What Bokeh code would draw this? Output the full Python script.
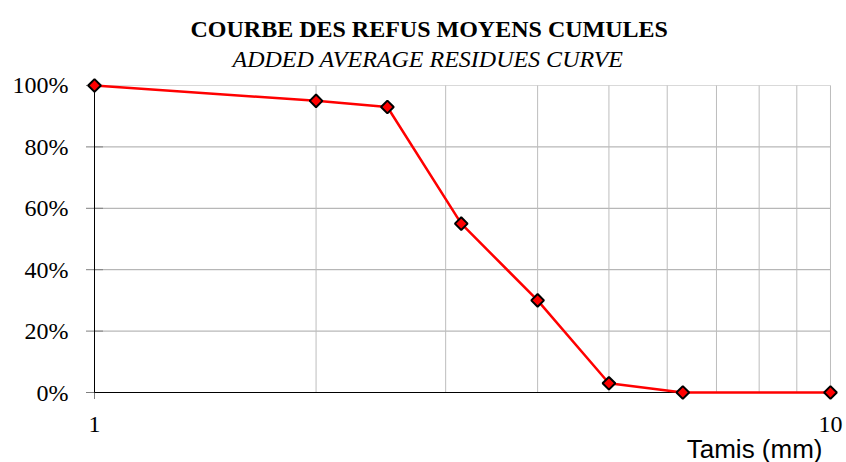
import math
from bokeh.plotting import figure
from bokeh.models import FixedTicker, NumeralTickFormatter, Title, Range1d
from bokeh.embed import file_html
from bokeh.resources import INLINE

sieve_mm = [1, 2, 2.5, 3.15, 4, 5, 6.3, 10]
refus = [1.00, 0.95, 0.93, 0.55, 0.30, 0.03, 0.0, 0.0]
y_ticks = [0, 0.2, 0.4, 0.6, 0.8, 1.0]
x_major = [1, 10]
x_minor = [2, 3, 4, 5, 6, 7, 8, 9]

x0, x1 = x_major[0], x_major[-1]
y0, y1 = y_ticks[0], y_ticks[-1]

p = figure(width=846, height=462, x_axis_type="log",
           x_range=Range1d(x0 / 1.0286, x1 * 1.0286),
           y_range=Range1d(y0 - 0.0293, y1 + 0.0293),
           output_backend="svg", toolbar_location=None,
           min_border_left=85, min_border_right=7, min_border_bottom=61, min_border_top=76)
p.outline_line_color = None
p.background_fill_color = "white"
p.xgrid.visible = False
p.ygrid.visible = False

p.xaxis.ticker = FixedTicker(ticks=x_major, minor_ticks=[])
p.yaxis.ticker = FixedTicker(ticks=y_ticks)
p.yaxis.formatter = NumeralTickFormatter(format="0%")
p.xaxis.formatter = NumeralTickFormatter(format="0")

for ax in (p.xaxis, p.yaxis):
    ax.axis_line_color = None
    ax.major_label_text_font = "Liberation Serif"
    ax.major_label_text_font_size = "24px"
    ax.major_label_text_color = "black"
    ax.minor_tick_line_color = None
    ax.major_tick_line_color = None
    ax.major_tick_in = 0
    ax.major_tick_out = 0

p.yaxis.major_label_standoff = 17
p.xaxis.major_label_standoff = 15

# grid lines limited to the data area
h_levels = y_ticks[1:-1]
p.segment(x0=[x0] * len(h_levels), x1=[x1] * len(h_levels), y0=h_levels, y1=h_levels,
          line_color="#a6a6a6", line_width=1)
p.segment(x0=[x0], x1=[x1], y0=[y1], y1=[y1], line_color="#d9d9d9", line_width=1)
v_levels = x_minor + [x1]
p.segment(x0=v_levels, x1=v_levels, y0=[y0] * len(v_levels), y1=[y1] * len(v_levels),
          line_color="#bdbdbd", line_width=1)
# tick marks (dash markers centred on the axis lines)
p.scatter(x=[x0] * len(y_ticks), y=y_ticks, marker="dash", size=17,
          line_color="#7f7f7f", line_width=1)
p.scatter(x=[x0], y=[y0], marker="dash", size=13, angle=math.pi / 2,
          line_color="#7f7f7f", line_width=1)
# axis lines at the data edges
p.segment(x0=[x0], x1=[x0], y0=[y0], y1=[y1], line_color="black", line_width=1)
p.segment(x0=[x0], x1=[x1], y0=[y0], y1=[y0], line_color="black", line_width=1)

p.line(sieve_mm, refus, line_color="red", line_width=2.5)
p.scatter(sieve_mm, refus, marker="square", size=9, angle=math.pi / 4, fill_color="red",
          line_color="black", line_width=2)

sub = Title(text="ADDED AVERAGE RESIDUES CURVE", align="left", offset=147,
            text_font="Liberation Serif", text_font_style="italic",
            text_font_size="24px", text_color="black", standoff=10)
main = Title(text="COURBE DES REFUS MOYENS CUMULES", align="left", offset=105,
             text_font="Liberation Serif", text_font_style="bold",
             text_font_size="24px", text_color="black", standoff=-7)
p.add_layout(sub, "above")
p.add_layout(main, "above")

xl = Title(text="Tamis (mm)", align="right", offset=17,
           text_font="Liberation Sans", text_font_style="normal",
           text_font_size="26px", text_color="black", standoff=-6,
           text_line_height=0.7)
p.add_layout(xl, "below")

open("out.html", "w").write(file_html(p, INLINE))
